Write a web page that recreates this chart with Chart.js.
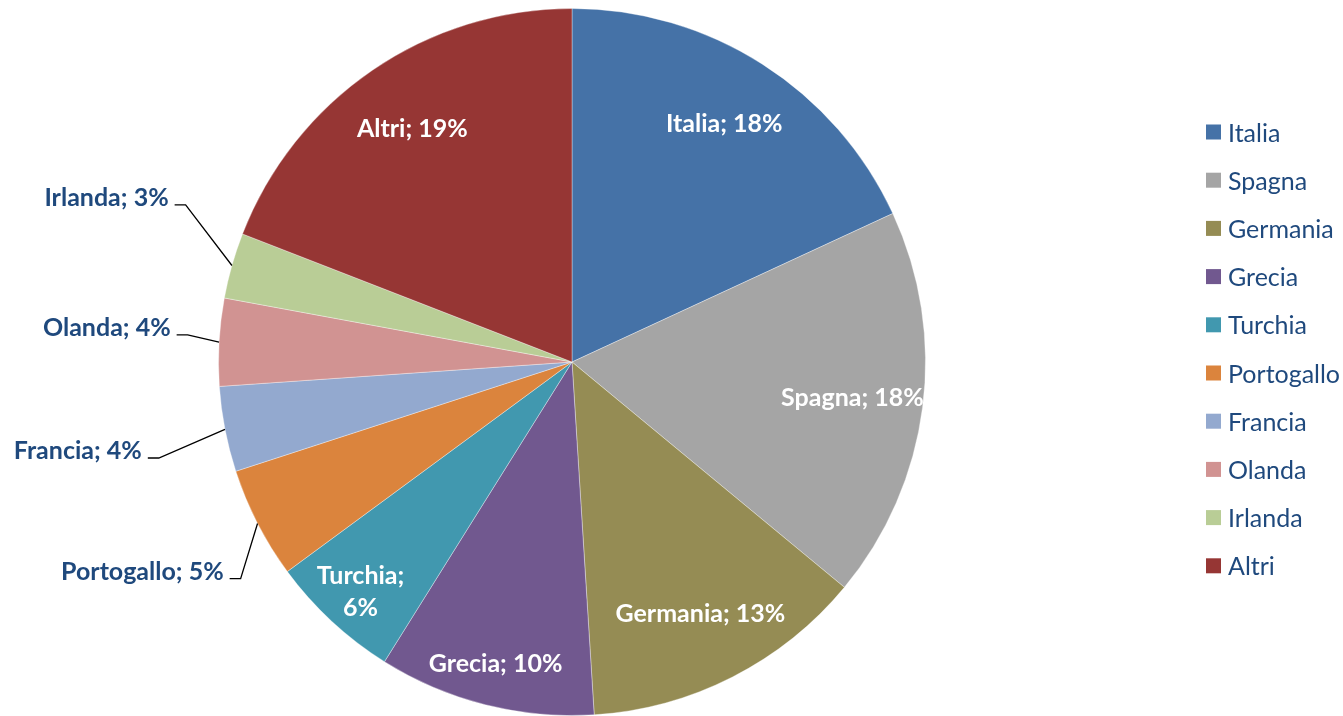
<!DOCTYPE html>
<html>
<head>
<meta charset="utf-8">
<script src="https://cdn.jsdelivr.net/npm/chart.js@4.4.1/dist/chart.umd.min.js"></script>
<style>
  html, body { margin: 0; padding: 0; background: #fff; }
  #wrap { width: 1343px; height: 716px; position: relative; }
</style>
</head>
<body>
<div id="wrap"><canvas id="pie"></canvas></div>
<script>
// export share by country (slice angles)
const countries = ["Italia", "Spagna", "Germania", "Grecia", "Turchia", "Portogallo", "Francia", "Olanda", "Irlanda", "Altri"];
const shares = [18.1, 17.9, 13.0, 9.9, 6.0, 5.1, 3.9, 4.0, 3.0, 19.1];
const colors = ["#4572A7", "#A5A5A5", "#958C54", "#71588F", "#4198AF", "#DB843D", "#93A9CF", "#D19392", "#B9CD96", "#963634"];

// slices whose label sits outside with a leader line: [radius factor, angle shift in degrees]
const callouts = {
  Portogallo: [1.12, -6],
  Francia: [1.2, -2.1],
  Olanda: [1.09, 0.8],
  Irlanda: [1.18, 6.3],
};

const FONT = "Lato, 'Open Sans', sans-serif";
const LABEL_BLUE = "#1F497D";

function pct(i) {
  const total = shares.reduce((a, b) => a + b, 0);
  return Math.round((shares[i] / total) * 100) + "%";
}

const sliceLabels = {
  id: "sliceLabels",
  afterDatasetsDraw(chart) {
    const ctx = chart.ctx;
    const meta = chart.getDatasetMeta(0);
    const total = shares.reduce((a, b) => a + b, 0);

    ctx.save();
    ctx.font = `bold 25px ${FONT}`;
    ctx.textBaseline = "middle";

    meta.data.forEach((arc, i) => {
      const { x, y, startAngle, endAngle, outerRadius } = arc.getProps(
        ["x", "y", "startAngle", "endAngle", "outerRadius"],
        true
      );
      const mid = (startAngle + endAngle) / 2;
      const name = countries[i];
      const text = `${name}; ${pct(i)}`;
      const callout = callouts[name];

      if (callout) {
        const [k, shift] = callout;
        const a = mid + (shift * Math.PI) / 180;
        const ex = x + Math.cos(mid) * outerRadius;
        const ey = y + Math.sin(mid) * outerRadius;
        const bx = x + Math.cos(a) * outerRadius * k;
        const by = y + Math.sin(a) * outerRadius * k;

        ctx.strokeStyle = "#000";
        ctx.lineWidth = 1.3;
        ctx.beginPath();
        ctx.moveTo(ex, ey);
        ctx.lineTo(bx, by);
        ctx.lineTo(bx - 11, by);
        ctx.stroke();

        ctx.fillStyle = LABEL_BLUE;
        ctx.textAlign = "right";
        ctx.fillText(text, bx - 17, by - 7);
        return;
      }

      const share = shares[i] / total;
      const r = outerRadius * (share >= 0.12 ? 0.8 : 0.88);
      const lx = x + Math.cos(mid) * r;
      const ly = y + Math.sin(mid) * r;

      ctx.fillStyle = "#fff";
      ctx.textAlign = "center";
      if (share < 0.08) {
        ctx.fillText(`${name};`, lx, ly - 14);
        ctx.fillText(pct(i), lx, ly + 18);
      } else {
        ctx.fillText(text, lx, ly);
      }
    });

    ctx.restore();
  },
};

const sideLegend = {
  id: "sideLegend",
  afterDraw(chart) {
    const ctx = chart.ctx;
    ctx.save();
    ctx.font = `25px ${FONT}`;
    ctx.textBaseline = "middle";
    ctx.textAlign = "left";

    countries.forEach((name, i) => {
      const cy = 132 + i * 48.2;
      ctx.fillStyle = colors[i];
      ctx.fillRect(1206, cy - 7.5, 15, 15);
      ctx.fillStyle = LABEL_BLUE;
      ctx.fillText(name, 1228, cy + 1.5);
    });

    ctx.restore();
  },
};

new Chart(document.getElementById("pie"), {
  type: "pie",
  data: {
    labels: countries,
    datasets: [
      {
        data: shares,
        backgroundColor: colors,
        borderColor: "rgba(255,255,255,0.35)",
        borderWidth: 1,
      },
    ],
  },
  options: {
    responsive: true,
    maintainAspectRatio: false,
    animation: false,
    layout: {
      padding: { left: 0, right: 199, top: 8, bottom: 0 },
    },
    plugins: {
      legend: { display: false },
      tooltip: { enabled: false },
    },
  },
  plugins: [sliceLabels, sideLegend],
});
</script>
</body>
</html>
